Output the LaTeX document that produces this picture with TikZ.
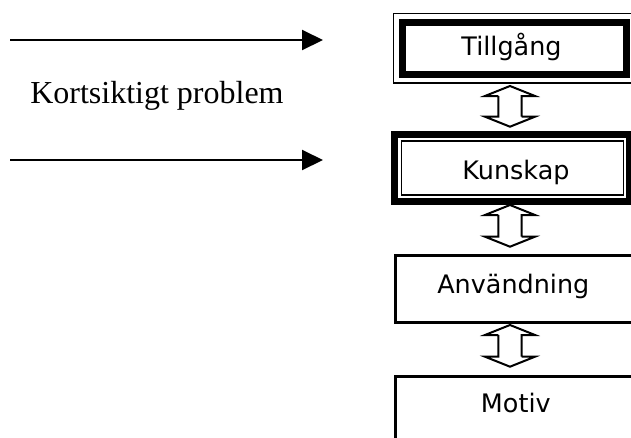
\documentclass[tikz,border=0pt]{standalone}
\usepackage{fontspec}
\setmainfont{Liberation Serif}
\newfontfamily\boxfont{DejaVu Sans}
\usetikzlibrary{arrows.meta}

\tikzset{
  boxlabel/.style={inner sep=0pt, anchor=base, font=\boxfont\fontsize{19.1pt}{23pt}\selectfont},
  sidelabel/.style={inner sep=0pt, anchor=base west, font=\fontsize{24pt}{29pt}\selectfont},
  thinrule/.style={draw=black, line width=0.9pt},
  thickrule/.style={draw=black, line width=5.25pt},
  plainbox/.style={draw=black, line width=2.25pt},
  pointer/.style={line width=1.5pt, -{Triangle[length=15.75pt,width=15pt]}},
  linkarrow/.style={draw=black, fill=white, line width=1.5pt, line join=miter}
}

% hollow two-headed arrow between two points on a vertical line
\newcommand{\linkbetween}[2]{%
  \path[linkarrow] (#1) -- ++(25,10) -- ++(-13.3,0) |- ($(#2)+(11.7,-10)$)
     -- ++(13.3,0) -- (#2) -- ++(-25,-10) -- ++(13.3,0) |- ($(#1)+(-11.7,10)$)
     -- ++(-13.3,0) -- cycle;}

\usetikzlibrary{calc}

\begin{document}
\begin{tikzpicture}[x=0.75pt, y=-0.75pt]
  \useasboundingbox (0,0) rectangle (631,437);
  \clip (0,0) rectangle (631,437);

  % Tillgång: thin outer line, thick inner line
  \draw[thinrule]  (393.3,13.3) rectangle (645,83);
  \draw[thickrule] (402,22) rectangle (626.7,74.5);
  \node[boxlabel] (tillgang) at (511.5,55) {Tillgång};

  % Kunskap: thick outer line, thin inner line
  \draw[thickrule] (394.7,134.7) rectangle (629.5,201);
  \draw[draw=black, line width=1.35pt] (401.5,141) rectangle (623.5,195);
  \node[boxlabel] (kunskap) at (516,179) {Kunskap};

  % Användning and Motiv: single border
  \draw[plainbox] (395,255) rectangle (650,322.5);
  \node[boxlabel] (anvandning) at (513.3,293.3) {Användning};

  \draw[plainbox] (395,376.5) rectangle (650,460);
  \node[boxlabel] (motiv) at (515.8,412.3) {Motiv};

  % links between the levels
  \coordinate (l1a) at (510,86);    \coordinate (l1b) at (510,126.7);
  \coordinate (l2a) at (510,205);   \coordinate (l2b) at (510,246.7);
  \coordinate (l3a) at (510,325);   \coordinate (l3b) at (510,366.7);
  \linkbetween{l1a}{l1b}
  \linkbetween{l2a}{l2b}
  \linkbetween{l3a}{l3b}

  % short-term problem acting on the upper two levels
  \coordinate (p1s) at (10,40);  \coordinate (p1e) at (323,40);
  \coordinate (p2s) at (10,160); \coordinate (p2e) at (323,160);
  \draw[pointer] (p1s) -- (p1e);
  \draw[pointer] (p2s) -- (p2e);
  \node[sidelabel] (kort) at (30,103.3) {Kortsiktigt problem};
\end{tikzpicture}
\end{document}
